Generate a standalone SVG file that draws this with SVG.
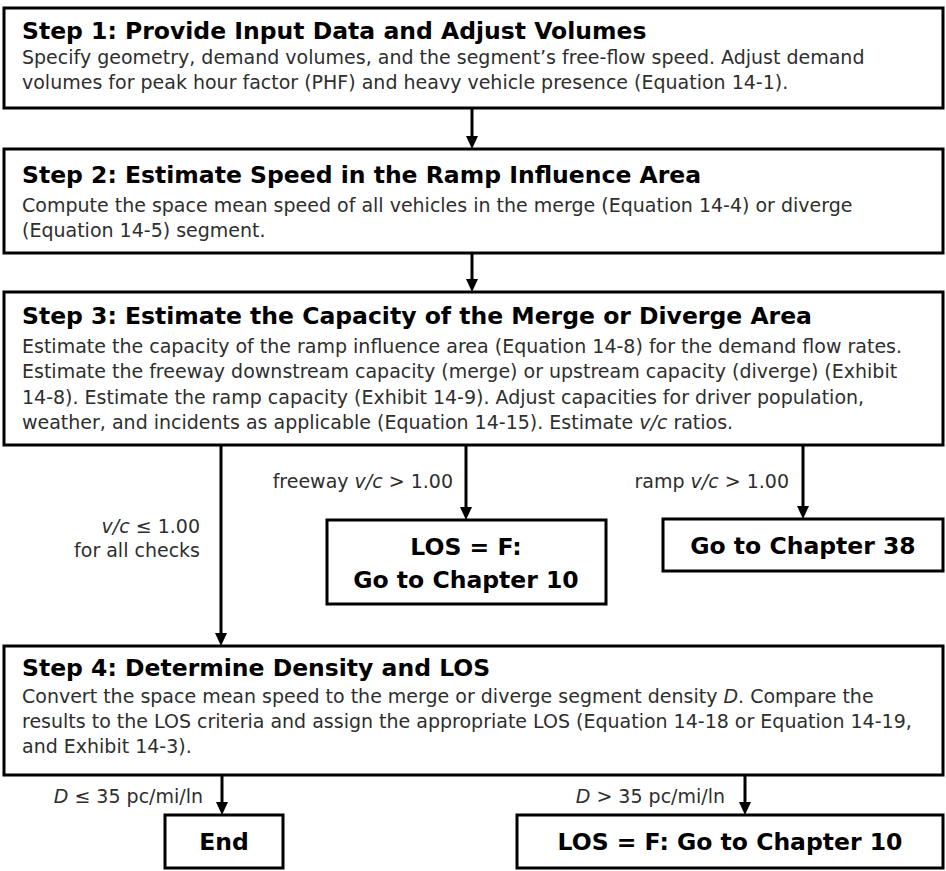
<svg xmlns="http://www.w3.org/2000/svg" width="946" height="871" viewBox="0 0 946 871">
  <style>
    .box { fill: #ffffff; stroke: #000000; stroke-width: 3; }
    .title { font-family: "DejaVu Sans", "Liberation Sans", sans-serif; font-weight: bold; font-size: 23.5px; fill: #000000; }
    .body { font-family: "DejaVu Sans", "Liberation Sans", sans-serif; font-size: 19px; fill: #2e2e2e; }
    .label { font-family: "DejaVu Sans", "Liberation Sans", sans-serif; font-size: 19px; fill: #2e2e2e; }
    .big { font-family: "DejaVu Sans", "Liberation Sans", sans-serif; font-weight: bold; font-size: 23.5px; fill: #000000; }
    .flow { stroke: #000000; stroke-width: 3; fill: none; marker-end: url(#head); }
    .it { font-style: italic; }
  </style>
  <defs>
    <marker id="head" markerUnits="userSpaceOnUse" viewBox="0 0 13 12" refX="3" refY="6" markerWidth="13" markerHeight="12" orient="auto">
      <path d="M0,0 L13,6 L0,12 Z" fill="#000000"/>
    </marker>
  </defs>

  <!-- connectors -->
  <g id="connectors">
    <line class="flow" x1="472" y1="108" x2="472" y2="139"/>
    <line class="flow" x1="472" y1="253" x2="472" y2="282"/>
    <line class="flow" x1="221" y1="445" x2="221" y2="636"/>
    <line class="flow" x1="466" y1="445" x2="466" y2="510"/>
    <line class="flow" x1="803" y1="445" x2="803" y2="509"/>
    <line class="flow" x1="222" y1="775" x2="222" y2="805"/>
    <line class="flow" x1="745" y1="775" x2="745" y2="805"/>
  </g>

  <!-- connector labels -->
  <g id="labels">
    <text class="label" x="453" y="488" text-anchor="end">freeway <tspan class="it">v/c</tspan> &gt; 1.00</text>
    <text class="label" x="789" y="488" text-anchor="end">ramp <tspan class="it">v/c</tspan> &gt; 1.00</text>
    <text class="label" x="200" y="533" text-anchor="end"><tspan class="it">v/c</tspan> ≤ 1.00</text>
    <text class="label" x="200" y="557" text-anchor="end">for all checks</text>
    <text class="label" x="203" y="803" text-anchor="end"><tspan class="it">D</tspan> ≤ 35 pc/mi/ln</text>
    <text class="label" x="725" y="803" text-anchor="end"><tspan class="it">D</tspan> &gt; 35 pc/mi/ln</text>
  </g>

  <!-- Step 1 -->
  <g id="step1">
    <rect class="box" x="4" y="8" width="939" height="100"/>
    <text class="title" x="22" y="39">Step 1: Provide Input Data and Adjust Volumes</text>
    <text class="body" x="22" y="64">Specify geometry, demand volumes, and the segment’s free-flow speed. Adjust demand</text>
    <text class="body" x="22" y="89">volumes for peak hour factor (PHF) and heavy vehicle presence (Equation 14-1).</text>
  </g>

  <!-- Step 2 -->
  <g id="step2">
    <rect class="box" x="4" y="149" width="939" height="104"/>
    <text class="title" x="22" y="183">Step 2: Estimate Speed in the Ramp Influence Area</text>
    <text class="body" x="22" y="212">Compute the space mean speed of all vehicles in the merge (Equation 14-4) or diverge</text>
    <text class="body" x="22" y="237">(Equation 14-5) segment.</text>
  </g>

  <!-- Step 3 -->
  <g id="step3">
    <rect class="box" x="4" y="292" width="939" height="153"/>
    <text class="title" x="22" y="324">Step 3: Estimate the Capacity of the Merge or Diverge Area</text>
    <text class="body" x="22" y="353">Estimate the capacity of the ramp influence area (Equation 14-8) for the demand flow rates.</text>
    <text class="body" x="22" y="378">Estimate the freeway downstream capacity (merge) or upstream capacity (diverge) (Exhibit</text>
    <text class="body" x="22" y="404">14-8). Estimate the ramp capacity (Exhibit 14-9). Adjust capacities for driver population,</text>
    <text class="body" x="22" y="429">weather, and incidents as applicable (Equation 14-15). Estimate <tspan class="it">v/c</tspan> ratios.</text>
  </g>

  <!-- freeway over capacity -->
  <g id="los-f-freeway">
    <rect class="box" x="327" y="520" width="279" height="84"/>
    <text class="big" x="466" y="555" text-anchor="middle">LOS = F:</text>
    <text class="big" x="466" y="588" text-anchor="middle">Go to Chapter 10</text>
  </g>

  <!-- ramp over capacity -->
  <g id="chapter38">
    <rect class="box" x="663" y="519" width="280" height="52"/>
    <text class="big" x="803" y="554" text-anchor="middle">Go to Chapter 38</text>
  </g>

  <!-- Step 4 -->
  <g id="step4">
    <rect class="box" x="4" y="646" width="939" height="129"/>
    <text class="title" x="22" y="676">Step 4: Determine Density and LOS</text>
    <text class="body" x="22" y="703">Convert the space mean speed to the merge or diverge segment density <tspan class="it">D</tspan>. Compare the</text>
    <text class="body" x="22" y="728">results to the LOS criteria and assign the appropriate LOS (Equation 14-18 or Equation 14-19,</text>
    <text class="body" x="22" y="753">and Exhibit 14-3).</text>
  </g>

  <!-- outcomes -->
  <g id="end">
    <rect class="box" x="165" y="815" width="118" height="53"/>
    <text class="big" x="224" y="850" text-anchor="middle">End</text>
  </g>
  <g id="los-f-density">
    <rect class="box" x="517" y="815" width="426" height="53"/>
    <text class="big" x="730" y="850" text-anchor="middle">LOS = F: Go to Chapter 10</text>
  </g>
</svg>
